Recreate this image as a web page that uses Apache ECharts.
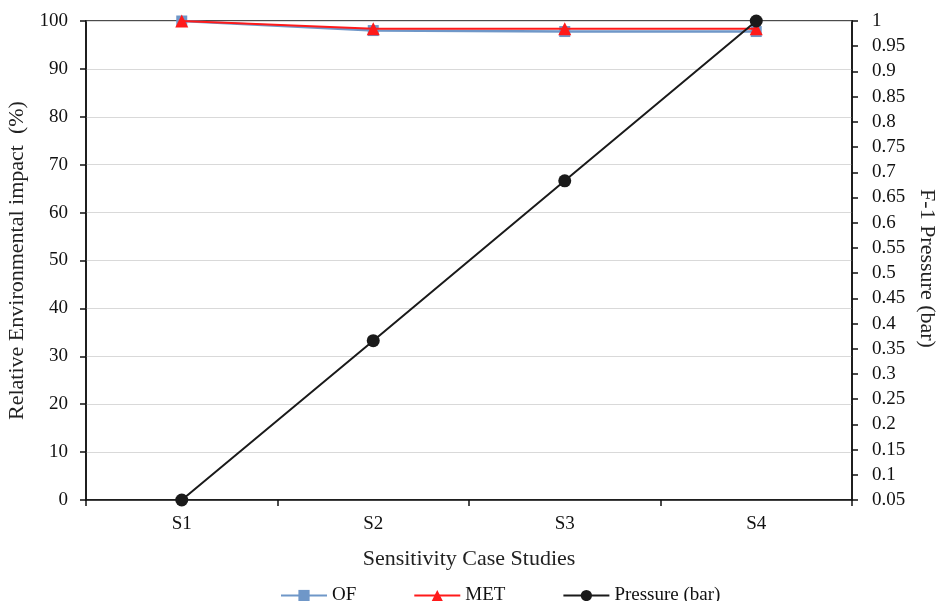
<!DOCTYPE html>
<html><head><meta charset="utf-8">
<script src="https://cdn.jsdelivr.net/npm/echarts@6/dist/echarts.min.js"></script>
<style>html,body{margin:0;padding:0;background:#fff}#c{width:938px;height:601px}</style>
</head><body><div id="c"></div>
<script>
var categories = ['S1', 'S2', 'S3', 'S4'];
var ofValues = [100, 98.0, 97.8, 97.8];
var metValues = [100, 98.4, 98.4, 98.4];
var pressureValues = [0.05, 0.366, 0.683, 1.0];

var F = 'Liberation Serif';
var chart = echarts.init(document.getElementById('c'));
chart.setOption({
  animation: false,
  textStyle: {fontFamily: F},
  grid: {left: 86, right: 86, top: 21, bottom: 101, containLabel: false, outerBoundsMode: 'none',
    show: true, borderColor: '#111', borderWidth: 1.5, backgroundColor: 'transparent'},
  legend: {
    top: 581, left: 275, itemGap: 57, itemWidth: 46, itemHeight: 14,
    textStyle: {fontFamily: F, fontSize: 19, color: '#111'},
    data: ['OF', 'MET', 'Pressure (bar)']
  },
  xAxis: {
    type: 'category', data: categories, boundaryGap: true,
    name: 'Sensitivity Case Studies', nameLocation: 'middle', nameGap: 48,
    nameTextStyle: {fontFamily: F, fontSize: 22, color: '#222'},
    axisLine: {lineStyle: {color: '#111', width: 1.5}},
    axisTick: {show: true, length: 6, lineStyle: {color: '#111', width: 1.5}},
    axisLabel: {fontFamily: F, fontSize: 19, color: '#111', margin: 15}
  },
  yAxis: [{
    type: 'value', min: 0, max: 100, interval: 10, position: 'left',
    name: 'Relative Environmental impact  (%)', nameLocation: 'middle', nameGap: 53, nameRotate: 90,
    nameTextStyle: {fontFamily: F, fontSize: 22, color: '#222'},
    axisLine: {show: true, lineStyle: {color: '#111', width: 1.5}},
    axisTick: {show: true, length: 6, inside: false, lineStyle: {color: '#111', width: 1.5}},
    axisLabel: {fontFamily: F, fontSize: 19, color: '#111', margin: 18},
    splitLine: {show: true, lineStyle: {color: '#d9d9d9', width: 1}}
  }, {
    type: 'value', min: 0.05, max: 1, interval: 0.05, position: 'right',
    name: 'F-1 Pressure (bar)', nameLocation: 'middle', nameGap: 62, nameRotate: -90,
    nameTextStyle: {fontFamily: F, fontSize: 22, color: '#222', padding: [0, 0, 0, 16]},
    axisLine: {show: true, lineStyle: {color: '#111', width: 1.5}},
    axisTick: {show: true, length: 6, lineStyle: {color: '#111', width: 1.5}},
    axisLabel: {fontFamily: F, fontSize: 19, color: '#111', margin: 20,
      formatter: function (v) { return String(Math.round(v * 100) / 100); }},
    splitLine: {show: false}
  }],
  series: [{
    name: 'OF', type: 'line', data: ofValues, yAxisIndex: 0,
    symbol: 'rect', symbolSize: 11,
    lineStyle: {color: '#6f97c8', width: 2.5},
    itemStyle: {color: '#6f97c8'}, z: 2
  }, {
    name: 'MET', type: 'line', data: metValues, yAxisIndex: 0,
    symbol: 'triangle', symbolSize: 13,
    lineStyle: {color: '#ff1a1a', width: 2},
    itemStyle: {color: '#ff1a1a'}, z: 3
  }, {
    name: 'Pressure (bar)', type: 'line', data: pressureValues, yAxisIndex: 1,
    symbol: 'circle', symbolSize: 13,
    lineStyle: {color: '#1a1a1a', width: 2},
    itemStyle: {color: '#1a1a1a'}, z: 4
  }]
});
</script></body></html>
